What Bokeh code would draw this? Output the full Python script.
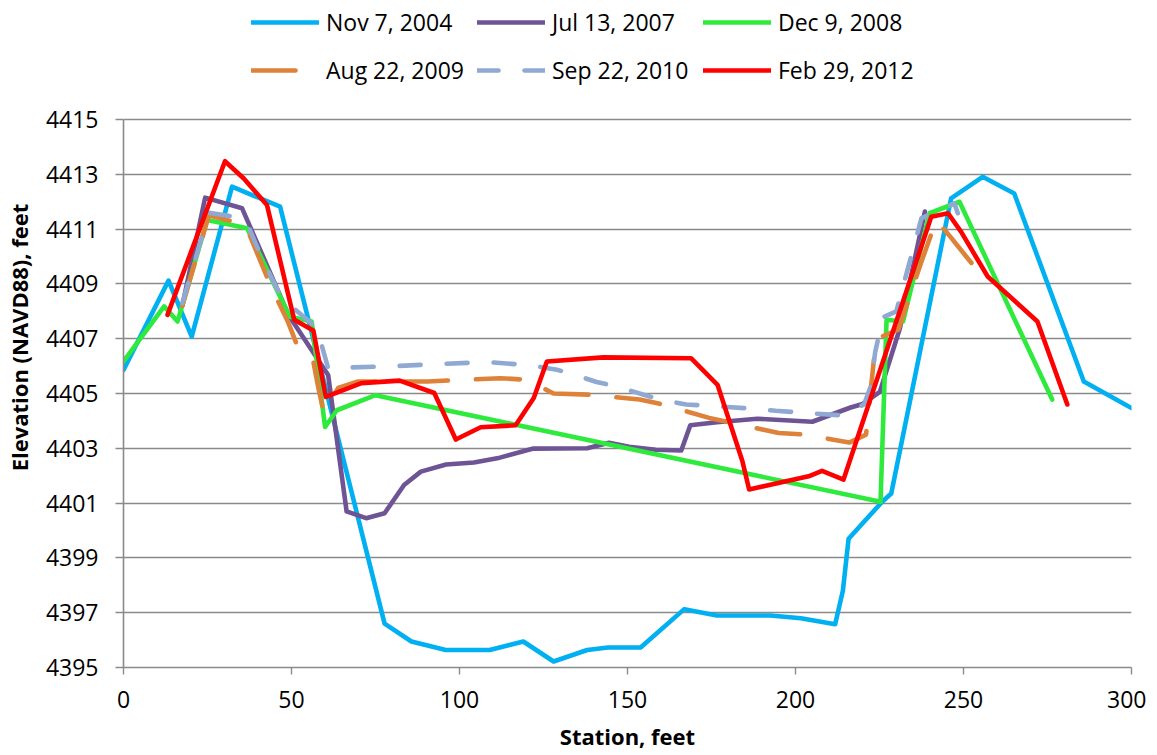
from bokeh.plotting import figure
from bokeh.models import FixedTicker, Legend, LegendItem, Range1d
from bokeh.embed import file_html
from bokeh.resources import INLINE

# ---- data ----
labels = ["Nov 7, 2004", "Jul 13, 2007", "Dec 9, 2008",
          "Aug 22, 2009", "Sep 22, 2010", "Feb 29, 2012"]

x_2004 = [0, 13.4, 20.3, 32.3, 46.6, 77.7, 85.7, 95.9, 109, 119, 128, 138, 144.2, 153.9,
          166.9, 176.6, 192.5, 201.6, 211.8, 214.1, 215.8, 225.8, 228.5, 246.3, 255.7,
          265.1, 285.8, 300]
y_2004 = [4405.86, 4409.12, 4407.08, 4412.55, 4411.82, 4396.6, 4395.95, 4395.64, 4395.64,
          4395.95, 4395.22, 4395.64, 4395.73, 4395.73, 4397.13, 4396.9, 4396.9, 4396.8,
          4396.58, 4397.8, 4399.7, 4401.05, 4401.35, 4412.12, 4412.91, 4412.3, 4405.44,
          4404.47]

x_2007 = [17.5, 24.3, 35.3, 49.1, 60.9, 66.4, 72.2, 77.7, 83.5, 88.5, 96, 104.3, 112, 122,
          138, 144.5, 150.5, 158.4, 166, 168.7, 176.6, 188.6, 205, 216.4, 220, 225.1,
          231.1, 238.5]
y_2007 = [4408.2, 4412.15, 4411.76, 4407.87, 4405.68, 4400.7, 4400.45, 4400.63, 4401.66,
          4402.15, 4402.41, 4402.48, 4402.66, 4402.99, 4403.0, 4403.2, 4403.06, 4402.95,
          4402.92, 4403.84, 4403.95, 4404.08, 4403.97, 4404.49, 4404.62, 4405.06, 4407.39,
          4411.64]

x_2008 = [0, 12.1, 16.1, 24.9, 36.8, 49.5, 56, 60, 63.5, 75, 225.3, 227.1, 232, 239.9,
          248.8, 276.4]
y_2008 = [4406.17, 4408.18, 4407.63, 4411.33, 4411.03, 4407.8, 4407.63, 4403.78, 4404.39,
          4404.94, 4401.05, 4407.69, 4407.63, 4411.58, 4412.0, 4404.78]

x_2009 = [17.5, 25.4, 36.3, 43.7, 49.1, 52.1, 56.5, 58, 59.5, 63.9, 69.8, 90.5, 112.2,
          120.1, 128, 138.8, 153.6, 160.5, 174.3, 195, 203, 216, 221, 223.2, 224, 230.6,
          237.5, 241.9, 246.3, 250.8, 256.2]
y_2009 = [4408.2, 4411.51, 4411.15, 4408.96, 4407.57, 4406.62, 4406.17, 4405.2, 4404.35,
          4405.2, 4405.44, 4405.44, 4405.56, 4405.5, 4405.0, 4404.96, 4404.78, 4404.6,
          4404.11, 4403.56, 4403.5, 4403.21, 4403.5, 4406.08, 4406.99, 4407.33, 4409.82,
          4411.33, 4410.69, 4410.0, 4409.2]

x_2010 = [17.5, 25.5, 33.3, 36.8, 41.2, 47.1, 57.5, 60.9, 66.9, 80.7, 94.5, 108.3, 121.1,
          129, 134.4, 140.8, 146.7, 159.6, 167.5, 187.2, 194.1, 213.8, 220.4, 222.5, 223.7,
          226, 230, 237.5, 244.4, 247.3, 248.3]
y_2010 = [4408.3, 4411.6, 4411.45, 4411.21, 4409.94, 4408.48, 4407.4, 4405.93, 4405.95,
          4406.0, 4406.08, 4406.15, 4406.03, 4405.87, 4405.68, 4405.42, 4405.26, 4404.78,
          4404.6, 4404.45, 4404.37, 4404.2, 4404.6, 4405.3, 4406.5, 4407.78, 4408.0,
          4411.4, 4411.78, 4411.94, 4411.58]

x_2012 = [13.1, 30.2, 35.8, 42.7, 50.8, 56.5, 60.2, 70.8, 82.2, 92.5, 98.9, 106.3, 116.7,
          122.1, 126, 142.8, 168.9, 176.8, 184.2, 186.2, 203.9, 207.9, 214.3, 240.4, 245.4,
          249.3, 257.2, 272, 280.9]
y_2012 = [4407.87, 4413.48, 4412.85, 4411.88, 4407.69, 4407.3, 4404.88, 4405.38, 4405.47,
          4405.02, 4403.32, 4403.77, 4403.84, 4404.84, 4406.17, 4406.32, 4406.29, 4405.32,
          4402.53, 4401.5, 4401.98, 4402.18, 4401.86, 4411.45, 4411.58, 4410.9, 4409.27,
          4407.63, 4404.6]

x_ticks = [0, 50, 100, 150, 200, 250, 300]
y_ticks = [4395, 4397, 4399, 4401, 4403, 4405, 4407, 4409, 4411, 4413, 4415]

# ---- styles / layout ----
series = [
    (x_2004, y_2004, "#00B0F0", None),
    (x_2007, y_2007, "#6E5494", None),
    (x_2008, y_2008, "#2EEA3C", None),
    (x_2009, y_2009, "#DE8239", "44 28"),
    (x_2010, y_2010, "#8FA9D2", "21 26"),
    (x_2012, y_2012, "#FF0000", None),
]

FONT = "Open Sans"
GRID = "#8A8A8A"
FRAME_H = 660          # frame extends up to hold the legend
Y_TOP = 4419.09        # head-room above 4415 for the legend

p = figure(output_backend="svg", toolbar_location=None,
           frame_width=1008, frame_height=FRAME_H,
           min_border_left=118, min_border_top=7, min_border_right=15,
           min_border_bottom=84,
           x_range=Range1d(0, 300), y_range=Range1d(4395, Y_TOP))
p.outline_line_color = None
p.background_fill_color = "white"
p.border_fill_color = "white"

renderers = []
for xs, ys, col, dash in series:
    kw = dict(line_color=col, line_width=4.6, line_cap="round", line_join="round")
    if dash:
        kw["line_dash"] = dash
    renderers.append(p.line(xs, ys, **kw))

p.xgrid.visible = False
p.ygrid.grid_line_color = GRID
p.ygrid.grid_line_width = 1.4

p.xaxis.ticker = FixedTicker(ticks=x_ticks)
p.yaxis.ticker = FixedTicker(ticks=y_ticks)
p.yaxis.bounds = (y_ticks[0], y_ticks[-1])
for ax in (p.xaxis[0], p.yaxis[0]):
    ax.axis_line_color = GRID
    ax.axis_line_width = 1.6
    ax.major_tick_line_color = GRID
    ax.major_tick_line_width = 1.4
    ax.major_tick_in = 0
    ax.minor_tick_line_color = None
    ax.major_label_text_font = FONT
    ax.major_label_text_font_size = "23px"
    ax.major_label_text_color = "black"
    ax.axis_label_text_font = FONT
    ax.axis_label_text_font_size = "22px"
    ax.axis_label_text_font_style = "bold"
    ax.axis_label_text_color = "black"

p.xaxis.major_tick_out = 7
p.xaxis.major_label_standoff = 16
p.xaxis.axis_label = "Station, feet"
p.xaxis.axis_label_standoff = 10
p.yaxis.major_tick_out = 8
p.yaxis.major_label_standoff = 17
p.yaxis.axis_label = "Elevation (NAVD88), feet"
p.yaxis.axis_label_standoff = 9
p.yaxis.major_label_orientation = "horizontal"


def make_legend(idx, loc):
    items = [LegendItem(label=labels[i], renderers=[renderers[i]]) for i in idx]
    return Legend(items=items, orientation="horizontal", location=loc,
                  glyph_width=68, glyph_height=20, label_standoff=7,
                  label_width=145, label_height=31, spacing=6, padding=0, margin=0,
                  label_text_font=FONT, label_text_font_size="23px",
                  label_text_color="black",
                  border_line_color=None, background_fill_alpha=0)


p.add_layout(make_legend([0, 1, 2], (128, 629)))
p.add_layout(make_legend([3, 4, 5], (128, 581)))

open("out.html", "w").write(file_html(p, INLINE))
